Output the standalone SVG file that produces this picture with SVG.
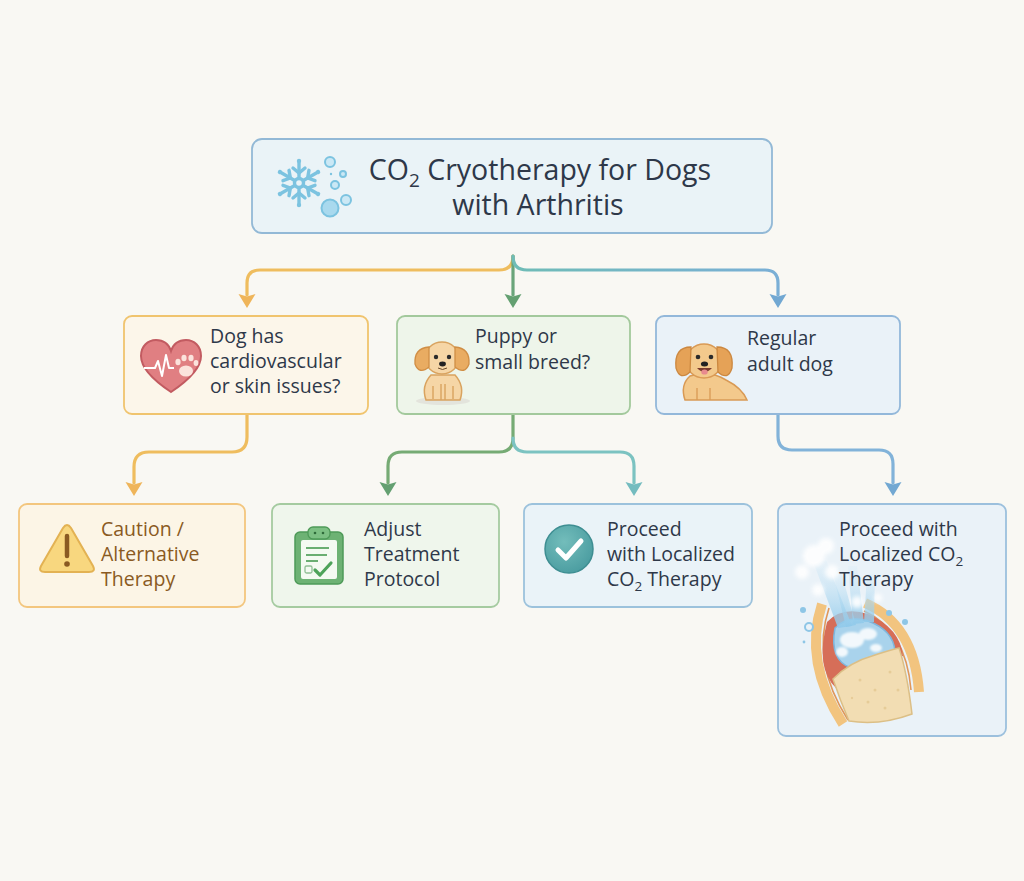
<svg xmlns="http://www.w3.org/2000/svg" width="1024" height="881" viewBox="0 0 1024 881">
<defs>
<style>
.t{font-family:"Open Sans","Noto Sans","Liberation Sans",sans-serif;fill:#2e3849;}
.title{font-size:28.5px;}
.lbl{font-size:19.5px;}
.brown{fill:#8a5a22;}
.box{stroke-width:1.8;}
.con{fill:none;stroke-width:3.2;stroke-linecap:round;stroke-linejoin:round;}
</style>
<marker id="aO" viewBox="0 0 14 18" refX="1" refY="9" markerWidth="14" markerHeight="18" markerUnits="userSpaceOnUse" orient="auto"><path d="M0,0.5 L14,9 L0,17.5 L2.5,9 Z" fill="#efb55a"/></marker>
<marker id="aG" viewBox="0 0 14 18" refX="1" refY="9" markerWidth="14" markerHeight="18" markerUnits="userSpaceOnUse" orient="auto"><path d="M0,0.5 L14,9 L0,17.5 L2.5,9 Z" fill="#64a071"/></marker>
<marker id="aT" viewBox="0 0 14 18" refX="1" refY="9" markerWidth="14" markerHeight="18" markerUnits="userSpaceOnUse" orient="auto"><path d="M0,0.5 L14,9 L0,17.5 L2.5,9 Z" fill="#74bcbf"/></marker>
<marker id="aB" viewBox="0 0 14 18" refX="1" refY="9" markerWidth="14" markerHeight="18" markerUnits="userSpaceOnUse" orient="auto"><path d="M0,0.5 L14,9 L0,17.5 L2.5,9 Z" fill="#72a8d2"/></marker>
<linearGradient id="gTB" x1="0" y1="0" x2="1" y2="0"><stop offset="0" stop-color="#6fbcb6"/><stop offset="1" stop-color="#7aafd6"/></linearGradient>
<linearGradient id="gStem" x1="0" y1="0" x2="0" y2="1"><stop offset="0" stop-color="#4f9aa3"/><stop offset="1" stop-color="#6aa57a"/></linearGradient>
<linearGradient id="gPlume" x1="0" y1="1" x2="0" y2="0"><stop offset="0" stop-color="#8fc9ea" stop-opacity="0.9"/><stop offset="1" stop-color="#cfe9f7" stop-opacity="0.2"/></linearGradient>
<radialGradient id="gCheck" cx="0.4" cy="0.35" r="0.7"><stop offset="0" stop-color="#73bdbb"/><stop offset="1" stop-color="#4a9ca0"/></radialGradient>
<filter id="blur" x="-50%" y="-50%" width="200%" height="200%"><feGaussianBlur stdDeviation="2.2"/></filter>
<filter id="blur1" x="-50%" y="-50%" width="200%" height="200%"><feGaussianBlur stdDeviation="1"/></filter>
</defs>

<rect width="1024" height="881" fill="#f9f8f3"/>

<g id="connectors">
<path class="con" d="M513,233 V258" stroke="url(#gStem)"/>
<path class="con" d="M513,256 Q513,270 499,270 H260 Q247,270 247,283 V295" stroke="#efbd5e" marker-end="url(#aO)"/>
<path class="con" d="M513,256 V295" stroke="#6aa57a" marker-end="url(#aG)"/>
<path class="con" d="M513,256 Q513,270 527,270 H765 Q778,270 778,283 V295" stroke="url(#gTB)" marker-end="url(#aB)"/>
<path class="con" d="M247,414 V437 Q247,452 232,452 H149 Q134,452 134,467 V483" stroke="#efbd5e" marker-end="url(#aO)"/>
<path class="con" d="M513,414 V438 Q513,452 499,452 H402 Q388,452 388,466 V483" stroke="#76ab74" marker-end="url(#aG)"/>
<path class="con" d="M513,438 Q513,452 527,452 H620 Q634,452 634,466 V483" stroke="#7cc3c1" marker-end="url(#aT)"/>
<path class="con" d="M778,414 V436 Q778,450 792,450 H879 Q893,450 893,464 V483" stroke="#82b3d9" marker-end="url(#aB)"/>
</g>

<g id="title">
<rect class="box" x="252" y="139" width="520" height="94" rx="10" fill="#eaf3f7" stroke="#93b9d6"/>
<g id="snowflake" stroke="#7cc3e0" stroke-width="3.4" stroke-linecap="round" fill="none">
<g id="arm"><line x1="299" y1="178" x2="299" y2="163"/><polyline points="293,168 299,173 305,168"/><circle cx="299" cy="161" r="2.2" fill="#7cc3e0" stroke="none"/></g>
<use href="#arm" transform="rotate(60 299 183)"/>
<use href="#arm" transform="rotate(120 299 183)"/>
<use href="#arm" transform="rotate(180 299 183)"/>
<use href="#arm" transform="rotate(240 299 183)"/>
<use href="#arm" transform="rotate(300 299 183)"/>
<circle cx="299" cy="183" r="4.5"/>
</g>
<g fill="#cbe8f5" stroke="#7cc3e0" stroke-width="2">
<circle cx="330" cy="162" r="5"/>
<circle cx="343" cy="174" r="3"/>
<circle cx="335" cy="185" r="4"/>
<circle cx="346" cy="200" r="5"/>
<circle cx="330" cy="208" r="8.5" fill="#a9d9ee"/>
</g>
<circle cx="331" cy="174" r="1.2" fill="#7cc3e0"/>
<text class="t title" x="540" y="180" text-anchor="middle">CO<tspan font-size="19" dy="7">2</tspan><tspan dy="-7"> Cryotherapy for Dogs</tspan></text>
<text class="t title" x="538" y="215" text-anchor="middle">with Arthritis</text>
</g>

<g id="node-cardio">
<rect class="box" x="124" y="316" width="244" height="98" rx="8" fill="#fcf6ea" stroke="#f0c46e"/>
<path d="M171,392 C150,378 141,367 141,356 C141,346 148,340 156,340 C164,340 169,345 171,351 C173,345 178,340 186,340 C194,340 201,346 201,356 C201,367 192,378 171,392 Z" fill="#e07f82" stroke="#c25b61" stroke-width="2"/>
<polyline points="144,368 155,368 158,361 162,376 166,355 169,368 174,368" fill="none" stroke="#fff" stroke-width="2" stroke-linejoin="round"/>
<g fill="#fbe3dc">
<ellipse cx="186" cy="371" rx="7" ry="5.5"/>
<ellipse cx="178" cy="362" rx="2.6" ry="3.2"/>
<ellipse cx="184" cy="358" rx="2.6" ry="3.2"/>
<ellipse cx="191" cy="358" rx="2.6" ry="3.2"/>
<ellipse cx="196" cy="363" rx="2.4" ry="3"/>
</g>
<text class="t lbl" x="210" y="343">Dog has</text>
<text class="t lbl" x="210" y="368">cardiovascular</text>
<text class="t lbl" x="210" y="393">or skin issues?</text>
</g>

<g id="node-puppy">
<rect class="box" x="397" y="316" width="233" height="98" rx="8" fill="#eef5ea" stroke="#a3c99c"/>
<ellipse cx="443" cy="401" rx="27" ry="4" fill="#e3e4dc"/>
<path d="M426,400 Q421,386 431,375 L455,375 Q465,386 460,400 Z" fill="#f6d6a6" stroke="#d9a35f" stroke-width="1.5"/>
<path d="M433,386 V399 M441,384 V400 M445,384 V400 M453,386 V399" stroke="#d9a35f" stroke-width="1.4" fill="none"/>
<ellipse cx="442" cy="358" rx="17" ry="16" fill="#f6d6a6" stroke="#d9a35f" stroke-width="1.5"/>
<path d="M429,347 Q414,348 415,364 Q419,375 429,367 Z" fill="#e9ac62" stroke="#d08e45" stroke-width="1.3"/>
<path d="M455,347 Q470,348 469,364 Q465,375 455,367 Z" fill="#e9ac62" stroke="#d08e45" stroke-width="1.3"/>
<circle cx="436" cy="357" r="2.2" fill="#2b2b2b"/>
<circle cx="449" cy="357" r="2.2" fill="#2b2b2b"/>
<ellipse cx="442.5" cy="364" rx="3.4" ry="2.4" fill="#222"/>
<path d="M438,368 Q442.5,371 447,368" fill="none" stroke="#6b4a2a" stroke-width="1"/>
<text class="t lbl" x="475" y="343">Puppy or</text>
<text class="t lbl" x="475" y="369">small breed?</text>
</g>

<g id="node-adult">
<rect class="box" x="656" y="316" width="244" height="98" rx="8" fill="#eaf2f8" stroke="#93b8da"/>
<path d="M685,400 Q680,385 690,376 Q710,370 726,380 Q742,388 747,400 Z" fill="#f3c98c" stroke="#d99a55" stroke-width="1.5"/>
<path d="M697,388 V400 M710,388 V400" stroke="#d99a55" stroke-width="1.3"/>
<ellipse cx="704" cy="361" rx="18" ry="17" fill="#f3c98c" stroke="#d99a55" stroke-width="1.5"/>
<path d="M691,347 Q674,347 676,368 Q680,381 690,372 Z" fill="#e5a257" stroke="#cc8840" stroke-width="1.3"/>
<path d="M717,347 Q734,347 732,368 Q728,381 718,372 Z" fill="#e5a257" stroke="#cc8840" stroke-width="1.3"/>
<circle cx="698" cy="357" r="2.3" fill="#2b2b2b"/>
<circle cx="711" cy="357" r="2.3" fill="#2b2b2b"/>
<ellipse cx="704.5" cy="364" rx="3.6" ry="2.5" fill="#222"/>
<path d="M697,368 Q704.5,376 712,368 Z" fill="#7a3b2e"/>
<ellipse cx="704.5" cy="372" rx="3.2" ry="2.6" fill="#e88a8f"/>
<text class="t lbl" x="747" y="345">Regular</text>
<text class="t lbl" x="747" y="371">adult dog</text>
</g>

<g id="node-caution">
<rect class="box" x="19" y="504" width="226" height="103" rx="8" fill="#fcf5e6" stroke="#f3c67e"/>
<path d="M63,528 Q67,522 71,528 L93,566 Q96,572 89,572 L45,572 Q38,572 41,566 Z" fill="#f8d77f" stroke="#e3b253" stroke-width="2" stroke-linejoin="round"/>
<path d="M67,536 V556" stroke="#8a5a22" stroke-width="4.5" stroke-linecap="round"/>
<circle cx="67" cy="564" r="2.8" fill="#8a5a22"/>
<text class="t lbl brown" x="101" y="536">Caution /</text>
<text class="t lbl brown" x="101" y="561">Alternative</text>
<text class="t lbl brown" x="101" y="586">Therapy</text>
</g>

<g id="node-adjust">
<rect class="box" x="272" y="504" width="227" height="103" rx="8" fill="#eff6ec" stroke="#a5cba0"/>
<rect x="295" y="532" width="48" height="52" rx="5" fill="#6db274" stroke="#4e9a58" stroke-width="1.5"/>
<rect x="301" y="540" width="36" height="39" rx="2" fill="#f4faf2"/>
<rect x="308" y="527" width="22" height="12" rx="5" fill="#7cc083" stroke="#4e9a58" stroke-width="1.3"/>
<circle cx="315" cy="533" r="1.3" fill="#2f6b3a"/><circle cx="323" cy="533" r="1.3" fill="#2f6b3a"/>
<path d="M306,548 H329 M306,555 H327 M306,561 H318" stroke="#6aae72" stroke-width="2"/>
<rect x="305" y="566" width="7" height="7" rx="1.5" fill="none" stroke="#8fbf94" stroke-width="1.3"/>
<path d="M315,570 L320,575 L331,563" fill="none" stroke="#4ea35a" stroke-width="3.2" stroke-linecap="round" stroke-linejoin="round"/>
<text class="t lbl" x="364" y="536">Adjust</text>
<text class="t lbl" x="364" y="561">Treatment</text>
<text class="t lbl" x="364" y="586">Protocol</text>
</g>

<g id="node-proceed">
<rect class="box" x="524" y="504" width="228" height="103" rx="8" fill="#eaf3f8" stroke="#9cc2dc"/>
<circle cx="569" cy="549" r="24" fill="url(#gCheck)" stroke="#3e8e92" stroke-width="1.5"/>
<path d="M558,550 L566,558 L581,541" fill="none" stroke="#fff" stroke-width="5" stroke-linecap="round" stroke-linejoin="round"/>
<text class="t lbl" x="607" y="536">Proceed</text>
<text class="t lbl" x="607" y="561">with Localized</text>
<text class="t lbl" x="607" y="586">CO<tspan font-size="13.5" dy="5">2</tspan><tspan dy="-5"> Therapy</tspan></text>
</g>

<g id="node-localized">
<rect class="box" x="778" y="504" width="228" height="232" rx="8" fill="#eaf2f8" stroke="#9cc0dd"/>
<g id="joint">
<path d="M822,604 Q803,662 843,724" fill="none" stroke="#f2c47f" stroke-width="10"/>
<path d="M829,608 Q811,662 848,720" fill="none" stroke="#e0975a" stroke-width="1.6"/>
<path d="M865,603 Q914,624 919,692" fill="none" stroke="#f2c47f" stroke-width="10"/>
<path d="M864,611 Q906,630 911,690" fill="none" stroke="#e0975a" stroke-width="1.6"/>
<path d="M827,622 Q815,668 836,688 Q860,664 903,656 Q900,628 868,614 Q842,606 827,622 Z" fill="#d66e58"/>
<path d="M835,628 Q829,660 851,668 Q874,660 895,651 Q893,630 868,621 Q848,615 835,628 Z" fill="#a9d3ec" stroke="#7fb6dc" stroke-width="1.5"/>
<g fill="#ffffff" opacity="0.85" filter="url(#blur1)">
<ellipse cx="852" cy="640" rx="12" ry="8"/>
<ellipse cx="868" cy="634" rx="9" ry="6"/>
<ellipse cx="842" cy="652" rx="6" ry="5"/>
<ellipse cx="876" cy="648" rx="6" ry="4"/>
</g>
<path d="M833,679 Q850,662 872,656 Q890,650 899,648 Q907,672 912,714 Q880,726 849,721 Q840,700 833,679 Z" fill="#f2ddb3" stroke="#dcbf86" stroke-width="1.5"/>
<g fill="#e2c58e" opacity="0.7">
<circle cx="860" cy="680" r="1.5"/><circle cx="875" cy="690" r="1.5"/><circle cx="890" cy="672" r="1.5"/><circle cx="868" cy="702" r="1.5"/><circle cx="885" cy="708" r="1.5"/><circle cx="898" cy="690" r="1.5"/><circle cx="852" cy="698" r="1.2"/>
</g>
<g fill="url(#gPlume)">
<path d="M838,628 L852,626 L826,560 L814,564 Z"/>
<path d="M853,624 L864,623 L857,566 L848,566 Z"/>
<path d="M864,622 L874,622 L875,574 L867,574 Z"/>
<path d="M846,627 L856,625 L840,568 L832,570 Z"/>
</g>
<g fill="#ffffff" opacity="0.9" filter="url(#blur)">
<circle cx="814" cy="556" r="11"/>
<circle cx="826" cy="546" r="8"/>
<circle cx="802" cy="572" r="7"/>
<circle cx="832" cy="572" r="7"/>
<circle cx="818" cy="590" r="6"/>
<circle cx="857" cy="602" r="6"/>
<circle cx="878" cy="598" r="4"/>
</g>
<g fill="#8ec6e6">
<circle cx="803" cy="610" r="3"/>
<circle cx="889" cy="613" r="3"/>
<circle cx="905" cy="622" r="3"/>
<circle cx="804" cy="642" r="1.4"/>
</g>
<circle cx="809" cy="627" r="4" fill="none" stroke="#8ec6e6" stroke-width="2"/>
</g>
<text class="t lbl" x="839" y="536">Proceed with</text>
<text class="t lbl" x="839" y="561">Localized CO<tspan font-size="13.5" dy="5">2</tspan></text>
<text class="t lbl" x="839" y="586">Therapy</text>
</g>
</svg>
